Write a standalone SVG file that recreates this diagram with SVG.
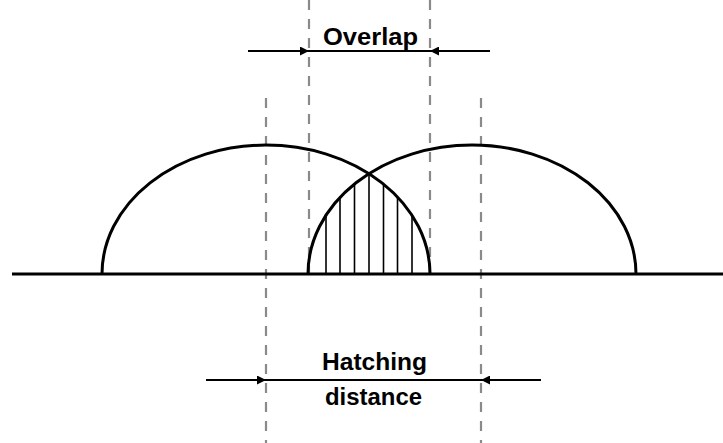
<svg xmlns="http://www.w3.org/2000/svg" width="723" height="443" viewBox="0 0 723 443">
<style>
.dash{stroke:#8a8a8a;stroke-width:2.2;stroke-dasharray:10 9;fill:none}
.dome{stroke:#000;stroke-width:3;fill:none}
.hatch{stroke:#000;stroke-width:1.6}
.arr{stroke:#000;stroke-width:2;fill:none}
.lbl{font-family:"Liberation Sans",Arial,sans-serif;font-weight:bold;font-size:23.5px;fill:#000;text-anchor:middle}
</style>
<defs>
<marker id="ah" viewBox="0 0 10 10" refX="10" refY="5" markerWidth="9" markerHeight="9" markerUnits="userSpaceOnUse" orient="auto">
<path d="M0,0 L10,5 L0,10 z" fill="#000"/>
</marker>
</defs>
<g id="guides">
<line class="dash" x1="309" y1="0" x2="309" y2="274"/>
<line class="dash" x1="430" y1="0" x2="430" y2="274"/>
<line class="dash" x1="266" y1="98" x2="266" y2="443"/>
<line class="dash" x1="481" y1="98" x2="481" y2="443"/>
</g>
<g id="hatching">
<line class="hatch" x1="326" y1="273" x2="326" y2="214"/>
<line class="hatch" x1="340" y1="273" x2="340" y2="196.5"/>
<line class="hatch" x1="354.5" y1="273" x2="354.5" y2="183.5"/>
<line class="hatch" x1="369" y1="273" x2="369" y2="173"/>
<line class="hatch" x1="383.5" y1="273" x2="383.5" y2="183.5"/>
<line class="hatch" x1="397.5" y1="273" x2="397.5" y2="196.5"/>
<line class="hatch" x1="412" y1="273" x2="412" y2="214"/>
</g>
<g id="dome-left">
<path class="dome" d="M102,274 A164,129 0 0 1 430,274"/>
</g>
<g id="dome-right">
<path class="dome" d="M308,274 A164,129 0 0 1 636,274"/>
</g>
<g id="baseline">
<line x1="12" y1="274" x2="723" y2="274" stroke="#000" stroke-width="3"/>
</g>
<g id="overlap">
<line class="arr" x1="248" y1="51" x2="309" y2="51" marker-end="url(#ah)"/>
<line class="arr" x1="309" y1="51" x2="430" y2="51"/>
<line class="arr" x1="490" y1="51" x2="430" y2="51" marker-end="url(#ah)"/>
<text class="lbl" x="370.5" y="45" textLength="95" lengthAdjust="spacingAndGlyphs">Overlap</text>
</g>
<g id="hatching-distance">
<line class="arr" x1="206" y1="380" x2="266" y2="380" marker-end="url(#ah)"/>
<line class="arr" x1="266" y1="380" x2="481" y2="380"/>
<line class="arr" x1="541" y1="380" x2="481" y2="380" marker-end="url(#ah)"/>
<text class="lbl" x="374.5" y="370" textLength="105" lengthAdjust="spacingAndGlyphs">Hatching</text>
<text class="lbl" x="373.5" y="405" textLength="97" lengthAdjust="spacingAndGlyphs">distance</text>
</g>
</svg>
